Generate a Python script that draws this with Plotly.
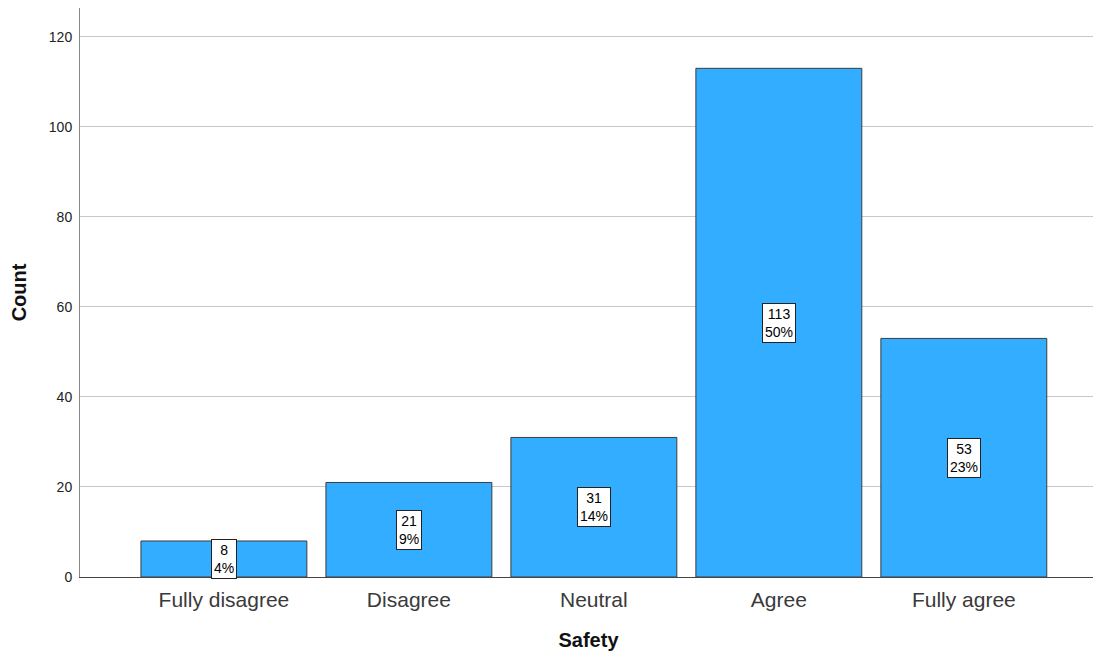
import plotly.graph_objects as go

categories = ["Fully disagree", "Disagree", "Neutral", "Agree", "Fully agree"]
counts = [8, 21, 31, 113, 53]
percents = ["4%", "9%", "14%", "50%", "23%"]
y_ticks = [0, 20, 40, 60, 80, 100, 120]

fig = go.Figure()
fig.add_trace(go.Bar(
    x=list(range(len(categories))), y=counts, width=0.897,
    marker=dict(color="#33adff", line=dict(color="#3c3c3c", width=1)),
    hoverinfo="skip",
))
for i, (c, p) in enumerate(zip(counts, percents)):
    fig.add_annotation(
        x=i, y=c / 2, text=f"{c}<br>{p}", showarrow=False,
        font=dict(family="Arial, Liberation Sans", size=14, color="#000"),
        bgcolor="white", bordercolor="#222", borderwidth=1, borderpad=2,
    )

fig.update_layout(
    width=1093, height=645,
    margin=dict(l=72, r=4, t=0, b=76),
    plot_bgcolor="white", paper_bgcolor="white",
    showlegend=False,
    font=dict(family="Arial, Liberation Sans", color="#333"),
    xaxis=dict(
        range=[-0.778, 4.72], tickmode="array",
        tickvals=list(range(len(categories))), ticktext=categories,
        tickfont=dict(size=21, color="#3a3a3a"), ticks="",
        ticklabelstandoff=4,
        showline=True, linecolor="#444", linewidth=1, showgrid=False,
        title=dict(text="<b>Safety</b>", font=dict(size=20, color="#111"), standoff=22),
        zeroline=False,
    ),
    yaxis=dict(
        range=[0, 126.4], tickmode="array", tickvals=y_ticks,
        tickfont=dict(size=14, color="#222"), ticks="outside", ticklen=4,
        tickcolor="white",
        showline=True, linecolor="#888", linewidth=1,
        showgrid=True, gridcolor="#c8c8c8", gridwidth=1,
        title=dict(text="<b>Count</b>", font=dict(size=20, color="#111"), standoff=20),
        zeroline=False,
    ),
)
fig.write_html("out.html")
